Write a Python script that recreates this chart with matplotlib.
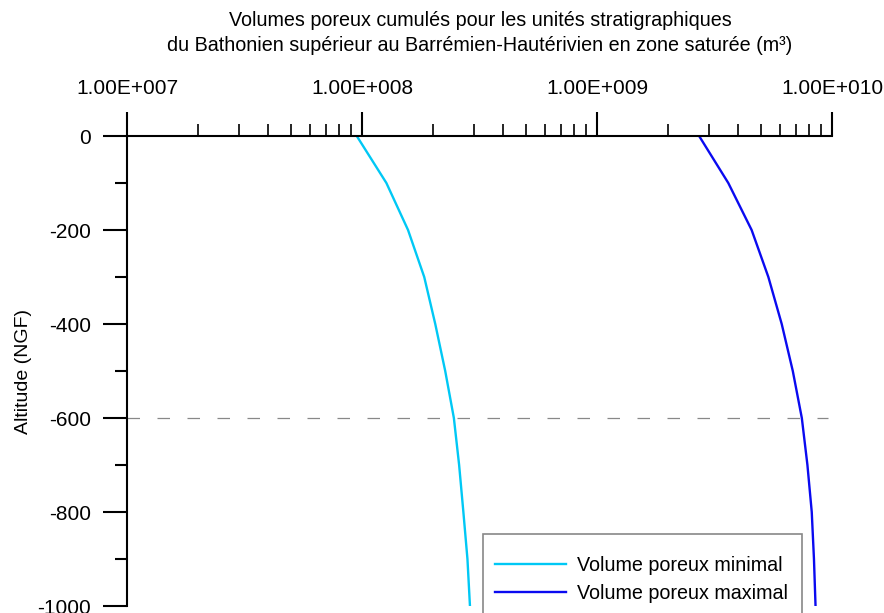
import numpy as np
import matplotlib
matplotlib.use("Agg")
import matplotlib.pyplot as plt
from matplotlib.ticker import FixedLocator, FuncFormatter, MultipleLocator

plt.rcParams['font.family'] = ['Liberation Sans', 'DejaVu Sans']
plt.rcParams['axes.unicode_minus'] = False

altitude = [0, -100, -200, -300, -400, -500, -600, -700, -800, -900, -1000]
vol_min = [9.5e7, 1.27e8, 1.57e8, 1.84e8, 2.05e8, 2.26e8, 2.46e8, 2.59e8, 2.70e8, 2.81e8, 2.88e8]
vol_max = [2.72e9, 3.62e9, 4.55e9, 5.36e9, 6.11e9, 6.81e9, 7.44e9, 7.86e9, 8.20e9, 8.38e9, 8.51e9]
series_labels = ["Volume poreux minimal", "Volume poreux maximal"]
ref_altitude = -600
title = ("Volumes poreux cumulés pour les unités stratigraphiques\n"
         "du Bathonien supérieur au Barrémien-Hautérivien en zone saturée (m³)")
ylabel = "Altitude (NGF)"

W, H = 884, 613
fig = plt.figure(figsize=(W / 100, H / 100), dpi=100)
ax = fig.add_axes([127 / W, 1 - 606 / H, (832 - 127) / W, (606 - 136) / H])

ax.plot(vol_min, altitude, color='#00c8f5', lw=1.7, label=series_labels[0])
ax.plot(vol_max, altitude, color='#0a0af0', lw=1.7, label=series_labels[1])
ax.plot([1e7, 9.6e9], [ref_altitude, ref_altitude], color='#888888', lw=0.9,
        dashes=(10, 14))

ax.set_xscale('log')
ax.set_xlim(1e7, 1e10)
ax.set_ylim(-1000, 0)

for s in ['right', 'bottom']:
    ax.spines[s].set_visible(False)
for s in ['left', 'top']:
    ax.spines[s].set_linewidth(1.5)
    ax.spines[s].set_color('black')

ax.xaxis.tick_top()
ax.xaxis.set_major_locator(FixedLocator([1e7, 1e8, 1e9, 1e10]))
ax.xaxis.set_minor_locator(FixedLocator([m * 10 ** e for e in range(7, 10) for m in range(2, 10)]))


def sci(v, pos=None):
    e = int(np.floor(np.log10(v) + 1e-9))
    m = v / 10 ** e
    return f"{m:.2f}E+{e:03d}"


ax.xaxis.set_major_formatter(FuncFormatter(sci))
ax.xaxis.set_minor_formatter(FuncFormatter(lambda v, p: ""))
ax.yaxis.set_major_locator(MultipleLocator(200))
ax.yaxis.set_minor_locator(MultipleLocator(100))
ax.yaxis.set_major_formatter(FuncFormatter(lambda v, p: f"{int(round(v))}"))

ax.tick_params(axis='x', which='major', direction='out', length=17, width=1.5,
               pad=10, labelsize=15, top=True, bottom=False)
ax.tick_params(axis='x', which='minor', direction='out', length=9, width=1.2,
               top=True, bottom=False)
ax.tick_params(axis='y', which='major', direction='out', length=17, width=1.5,
               pad=9, labelsize=15)
ax.tick_params(axis='y', which='minor', direction='out', length=9, width=1.5)

ax.set_ylabel(ylabel, fontsize=14, labelpad=4)
fig.text(480 / W, 1 - 33 / H, title, ha='center', va='center', fontsize=14.2,
         linespacing=1.38)

leg = ax.legend(loc='upper left',
                bbox_to_anchor=(483 / W, 1 - 534 / H - 0.01, (802 - 483) / W, 0.01),
                bbox_transform=fig.transFigure, mode='expand', fontsize=14.2,
                fancybox=False, frameon=True, edgecolor='#888888', framealpha=1,
                borderpad=0.6, labelspacing=0.45, handlelength=3.6, handletextpad=0.55,
                borderaxespad=0, title=" ", title_fontsize=1)
leg.get_frame().set_linewidth(1.2)

fig.savefig('out.png', dpi=100)
